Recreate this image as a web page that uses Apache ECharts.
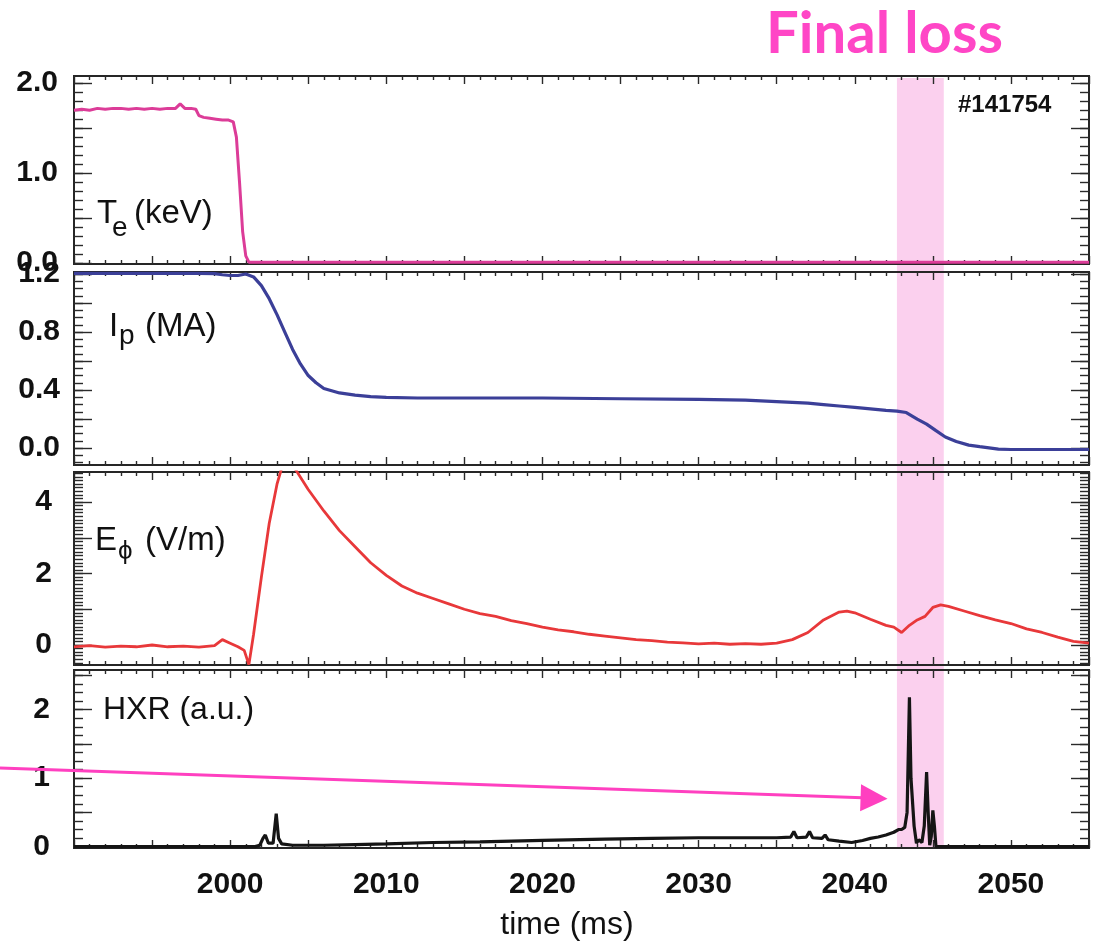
<!DOCTYPE html>
<html><head><meta charset="utf-8">
<script src="https://cdn.jsdelivr.net/npm/echarts@6/dist/echarts.min.js"></script>
<style>html,body{margin:0;padding:0;background:#fff}#c{width:1095px;height:944px}</style>
</head><body><div id="c"></div>
<script>
// ---------------- data ----------------
const timeLabels = [2000, 2010, 2020, 2030, 2040, 2050];
const finalLossBand = [2042.7, 2045.7];
const arrowTip = [2042.1, 0.7];

const teTime = [1990, 1990.5, 1991, 1991.5, 1992, 1992.5, 1993, 1993.5, 1994, 1994.5, 1995, 1995.5, 1996, 1996.5, 1996.8, 1997.1, 1997.5, 1997.8, 1998.0, 1998.3, 1998.7, 1999.1, 1999.5, 1999.9, 2000.2, 2000.4, 2000.6, 2000.8, 2001.0, 2001.2, 2010, 2020, 2030, 2040, 2050, 2055];
const teVals = [1.70, 1.71, 1.70, 1.72, 1.71, 1.72, 1.72, 1.71, 1.72, 1.71, 1.72, 1.71, 1.72, 1.72, 1.77, 1.72, 1.72, 1.71, 1.64, 1.62, 1.61, 1.60, 1.59, 1.59, 1.57, 1.40, 0.90, 0.35, 0.08, 0.01, 0.01, 0.01, 0.01, 0.01, 0.01, 0.01];

const ipTime = [1990, 1992, 1994, 1996, 1998, 1999, 1999.5, 2000, 2000.5, 2001, 2001.5, 2002, 2002.5, 2003, 2003.5, 2004, 2004.5, 2005, 2005.5, 2006, 2007, 2008, 2009, 2010, 2012, 2015, 2020, 2025, 2030, 2033, 2035, 2037, 2038, 2039, 2040, 2041, 2042, 2042.7, 2043.3, 2044, 2044.6, 2045.2, 2045.8, 2046.5, 2047.3, 2048, 2049.2, 2050, 2052, 2055];
const ipVals = [1.205, 1.205, 1.205, 1.205, 1.205, 1.203, 1.195, 1.19, 1.19, 1.2, 1.18, 1.12, 1.03, 0.92, 0.80, 0.68, 0.58, 0.50, 0.45, 0.41, 0.38, 0.365, 0.355, 0.35, 0.345, 0.345, 0.345, 0.34, 0.335, 0.33, 0.32, 0.31, 0.30, 0.29, 0.28, 0.27, 0.26, 0.255, 0.245, 0.20, 0.165, 0.12, 0.076, 0.045, 0.02, 0.01, -0.007, -0.01, -0.01, -0.01];

const eTime = [1990, 1991, 1992, 1993, 1994, 1995, 1996, 1997, 1998, 1999, 1999.5, 2000, 2000.5, 2000.9, 2001.2, 2001.5, 2002, 2002.5, 2003, 2003.4, 2003.8, 2004.2, 2005, 2006, 2007, 2008, 2009, 2010, 2011, 2012, 2013, 2014, 2015, 2016, 2017, 2018, 2019, 2020, 2021, 2022, 2023, 2024, 2025, 2026, 2027, 2028, 2029, 2030, 2031, 2032, 2033, 2034, 2035, 2036, 2037, 2038, 2039, 2039.5, 2040, 2041, 2042, 2042.5, 2043, 2043.5, 2044, 2044.5, 2045, 2045.5, 2046, 2047, 2048, 2049, 2050, 2051, 2052, 2053, 2054, 2055];
const eVals = [-0.05, -0.02, -0.06, -0.03, -0.05, 0.0, -0.05, -0.03, -0.06, -0.02, 0.15, 0.05, -0.05, -0.15, -0.55, 0.3, 1.9, 3.4, 4.5, 5.1, 5.2, 4.9, 4.35, 3.75, 3.2, 2.75, 2.3, 1.95, 1.65, 1.45, 1.30, 1.15, 1.0, 0.88, 0.8, 0.68, 0.6, 0.5, 0.42, 0.37, 0.3, 0.25, 0.2, 0.15, 0.12, 0.08, 0.06, 0.03, 0.05, 0.02, 0.04, 0.02, 0.05, 0.15, 0.35, 0.7, 0.92, 0.95, 0.9, 0.72, 0.55, 0.5, 0.35, 0.55, 0.7, 0.8, 1.05, 1.12, 1.08, 0.95, 0.82, 0.7, 0.6, 0.45, 0.35, 0.22, 0.1, 0.05];

const hxrTime = [1990, 2001.6, 2001.9, 2002.1, 2002.25, 2002.45, 2002.75, 2002.95, 2003.1, 2003.3, 2004, 2006, 2008, 2010, 2013, 2016, 2020, 2024, 2027, 2030, 2033, 2035, 2035.9, 2036.1, 2036.3, 2036.9, 2037.1, 2037.3, 2037.9, 2038.1, 2038.3, 2039, 2039.8, 2040.5, 2041, 2041.5, 2042, 2042.5, 2042.8, 2043.0, 2043.2, 2043.35, 2043.5, 2043.6, 2043.7, 2043.8, 2043.95, 2044.1, 2044.3, 2044.45, 2044.6, 2044.7, 2044.8, 2044.9, 2045.0, 2045.1, 2045.2, 2055];
const hxrVals = [0, 0, 0.02, 0.12, 0.17, 0.05, 0.05, 0.48, 0.12, 0.04, 0.02, 0.02, 0.03, 0.04, 0.06, 0.07, 0.09, 0.11, 0.12, 0.13, 0.13, 0.13, 0.14, 0.22, 0.13, 0.14, 0.22, 0.13, 0.12, 0.17, 0.1, 0.08, 0.06, 0.09, 0.12, 0.14, 0.17, 0.21, 0.25, 0.25, 0.28, 0.5, 2.18, 1.0, 1.0, 0.3, 0.05, 0.1, 0.06, 0.3, 1.09, 0.5, 0.02, 0.15, 0.53, 0.3, 0.0, 0.0];

const teMajor = [0, 0.5, 1, 1.5, 2];      const teLabels = [0, 1, 2];
const ipMajor = [0, 0.2, 0.4, 0.6, 0.8, 1.0, 1.2]; const ipLabels = [0, 0.4, 0.8, 1.2];
const eMajor = [0, 1, 2, 3, 4];           const eLabels = [0, 2, 4];
const hxrMajor = [0, 0.5, 1, 1.5, 2, 2.5]; const hxrLabels = [0, 1, 2];

// ---------------- layout / style ----------------
const FONT = '"Liberation Sans", Arial, sans-serif';
const grids = [
  {left: 74, top: 76, width: 1015, height: 188},
  {left: 74, top: 272, width: 1015, height: 193},
  {left: 74, top: 472, width: 1015, height: 193},
  {left: 74, top: 670, width: 1015, height: 178}
];
function steps(from, to, step) {
  const out = [];
  for (let k = 0; from + k * step <= to + 1e-9; k++) out.push(+(from + k * step).toFixed(4));
  return out;
}
const panels = [
  {time: teTime, vals: teVals, color: '#DC3C98', width: 3, min: -0.01, max: 2.08, major: teMajor, minor: steps(0, 2.0, 0.1), labels: teLabels, dec: 1, margin: 16},
  {time: ipTime, vals: ipVals, color: '#3B3F98', width: 3.2, min: -0.117, max: 1.214, major: ipMajor, minor: steps(-0.1, 1.2, 0.05), labels: ipLabels, dec: 1, margin: 14},
  {time: eTime, vals: eVals, color: '#E8383A', width: 2.8, min: -0.56, max: 4.84, major: eMajor, minor: steps(-0.5, 4.8, 0.1), labels: eLabels, dec: 0, margin: 22},
  {time: hxrTime, vals: hxrVals, color: '#151515', width: 3.2, min: -0.02, max: 2.58, major: hxrMajor, minor: steps(0, 2.5, 0.125), labels: hxrLabels, dec: 0, margin: 24}
];

const TICK = {color: '#2a2a2a', width: 1.4};
const xAxis = [], yAxis = [], series = [];
panels.forEach((p, gi) => {
  const xb = {type: 'value', gridIndex: gi, min: 1990, max: 2055, interval: 5,
    splitLine: {show: false}, axisLine: {show: false, onZero: false},
    axisTick: {show: true, inside: true, length: 8, lineStyle: TICK},
    minorTick: {show: true, splitNumber: 5, length: 4, lineStyle: TICK},
    minorSplitLine: {show: false}};
  xAxis.push(Object.assign({}, xb, {position: 'bottom',
    axisLabel: gi === 3 ? {show: true, customValues: timeLabels, margin: 22,
      fontFamily: FONT, fontWeight: 'bold', fontSize: 30, color: '#111', formatter: v => String(Math.round(v))} : {show: false}}));
  xAxis.push(Object.assign({}, xb, {position: 'top', axisLabel: {show: false}}));
  const yb = {type: 'value', gridIndex: gi, min: p.min, max: p.max,
    splitLine: {show: false}, axisLine: {show: false, onZero: false}, minorTick: {show: false}};
  yAxis.push(Object.assign({}, yb, {position: 'left',
    axisTick: {show: true, inside: true, length: 18, customValues: p.major, lineStyle: TICK},
    axisLabel: {show: true, customValues: p.labels, margin: p.margin, fontFamily: FONT, fontWeight: 'bold', fontSize: 30, color: '#111',
      formatter: v => (+v).toFixed(p.dec)}}));
  yAxis.push(Object.assign({}, yb, {position: 'left',
    axisTick: {show: true, inside: true, length: 9, customValues: p.minor, lineStyle: TICK}, axisLabel: {show: false}}));
  yAxis.push(Object.assign({}, yb, {position: 'right',
    axisTick: {show: true, inside: true, length: 18, customValues: p.major, lineStyle: TICK}, axisLabel: {show: false}}));
  yAxis.push(Object.assign({}, yb, {position: 'right',
    axisTick: {show: true, inside: true, length: 9, customValues: p.minor, lineStyle: TICK}, axisLabel: {show: false}}));
  series.push({type: 'line', xAxisIndex: gi * 2, yAxisIndex: gi * 4, showSymbol: false, symbol: 'none',
    data: p.time.map((t, i) => [t, p.vals[i]]), lineStyle: {color: p.color, width: p.width}, z: 3, clip: true});
});

const chart = echarts.init(document.getElementById('c'), null, {renderer: 'canvas'});
chart.setOption({
  animation: false,
  backgroundColor: '#ffffff',
  grid: grids.map(g => Object.assign({show: true, borderColor: '#262626', borderWidth: 2, backgroundColor: 'transparent', containLabel: false}, g)),
  xAxis, yAxis, series
});

// ---------------- annotations ----------------
function txt(text, x, y, font, fill, align) {
  return {type: 'text', z: 20, style: {text, x, y, font, fill: fill || '#111', textAlign: align || 'left', align: align || 'left', textVerticalAlign: 'middle', verticalAlign: 'middle'}};
}
const bx0 = chart.convertToPixel({xAxisIndex: 0}, finalLossBand[0]);
const bx1 = chart.convertToPixel({xAxisIndex: 0}, finalLossBand[1]);
const bandTop = grids[0].top + 2, bandBot = grids[3].top + grids[3].height;
const tip = chart.convertToPixel({xAxisIndex: 6, yAxisIndex: 12}, arrowTip);
const tail = [0, 768];
const dx = tip[0] - tail[0], dy = tip[1] - tail[1], L = Math.hypot(dx, dy);
const ux = dx / L, uy = dy / L, nx = -uy, ny = ux, HL = 27, HW = 13.5;
const base = [tip[0] - HL * ux, tip[1] - HL * uy];

const LBL = '33px ' + FONT, SUB = '28px ' + FONT;
chart.setOption({graphic: [
  {type: 'rect', z: -10, silent: true, shape: {x: bx0, y: bandTop, width: bx1 - bx0, height: bandBot - bandTop}, style: {fill: '#FBD0EE'}},
  {type: 'line', z: 30, shape: {x1: tail[0], y1: tail[1], x2: base[0] + 2 * ux, y2: base[1] + 2 * uy}, style: {stroke: '#FF40C0', lineWidth: 3}},
  {type: 'polygon', z: 30, shape: {points: [tip, [base[0] + HW * nx, base[1] + HW * ny], [base[0] - HW * nx, base[1] - HW * ny]]}, style: {fill: '#FF40C0'}},
  txt('Final loss', 766, 34, 'bold 58px Lato, "Noto Sans", sans-serif', '#FF46C6'),
  txt('#141754', 958, 105, 'bold 24px ' + FONT),
  txt('T', 97, 214, LBL), txt('e', 112, 228, SUB), txt('(keV)', 134, 214, LBL),
  txt('I', 109, 327, LBL), txt('p', 119, 336, SUB), txt('(MA)', 145, 327, LBL),
  txt('E', 95, 541, LBL), txt('\u03D5', 118, 552, '26px ' + FONT), txt('(V/m)', 145, 541, LBL),
  txt('HXR (a.u.)', 103, 710, '32px ' + FONT),
  txt('time (ms)', 567, 925, '32px ' + FONT, '#111', 'center')
]});
</script></body></html>
